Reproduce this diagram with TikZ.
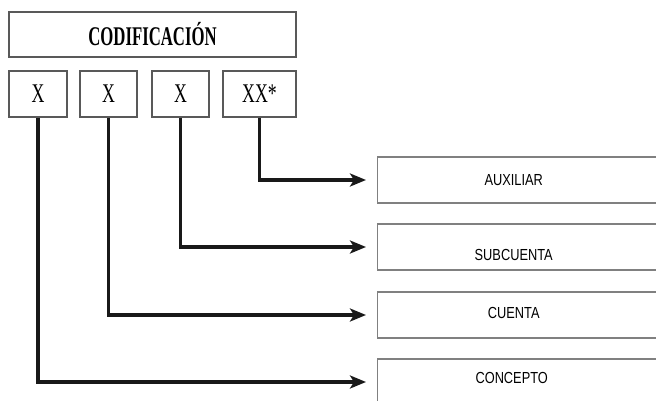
\documentclass[tikz,border=0pt]{standalone}
\usepackage{fontspec}
\usepackage{xcolor}
\setmainfont{Liberation Serif}
\newfontfamily\codefont[FakeStretch=0.62]{Liberation Serif}
\newfontfamily\digitfont[FakeStretch=0.66]{Liberation Serif}
\newfontfamily\levelfont[FakeStretch=0.8]{Liberation Sans}
\usetikzlibrary{arrows.meta}

\begin{document}
\begin{tikzpicture}[x=1pt,y=-1pt,
  every node/.style={inner sep=0pt},
  topbox/.style={draw=black!65,line width=1.3pt,minimum width=287pt,minimum height=45pt,font=\codefont\fontsize{27}{27}\selectfont\bfseries},
  digitbox/.style={draw=black!65,line width=1.3pt,minimum height=46pt,font=\digitfont\fontsize{27}{27}\selectfont},
  levelbox/.style={draw=black!50,line width=1.4pt,minimum width=300pt,minimum height=46pt,anchor=west,font=\levelfont\fontsize{16}{16}\selectfont},
  link/.style={line width=3.2pt,black!90,-{Stealth[length=16pt,width=13pt,inset=4pt]},shorten >=11pt}]
\useasboundingbox (0,0) rectangle (656,401);
\clip (0,0) rectangle (656,401);
\fill [white] (0,0) rectangle (656,401);
% codificacion
\node [topbox] (cod) at (152.5,34.5) {CODIFICACIÓN};
\node [digitbox,minimum width=58pt] (d1) at (38,94) {X};
\node [digitbox,minimum width=57pt] (d2) at (108.5,94) {X};
\node [digitbox,minimum width=57pt] (d3) at (180.5,94) {X};
\node [digitbox,minimum width=73pt] (d4) at (259.5,94) {XX*};
% niveles
\node [levelbox] (aux) at (377,180) {\hspace*{-28pt}AUXILIAR};
\node [levelbox] (sub) at (377,247) {\hspace*{-28pt}\raisebox{-8pt}[\height][\depth]{SUBCUENTA}};
\node [levelbox] (cta) at (377,315) {\hspace*{-28pt}\raisebox{2pt}[\height][\depth]{CUENTA}};
\node [levelbox] (con) at (377,382) {\hspace*{-32pt}\raisebox{4pt}[\height][\depth]{CONCEPTO}};
% flechas
\draw [link] (d4.south) |- (aux.west);
\draw [link] (d3.south) |- (sub.west);
\draw [link] (d2.south) |- (cta.west);
\draw [link] (d1.south) |- (con.west);
\end{tikzpicture}
\end{document}
